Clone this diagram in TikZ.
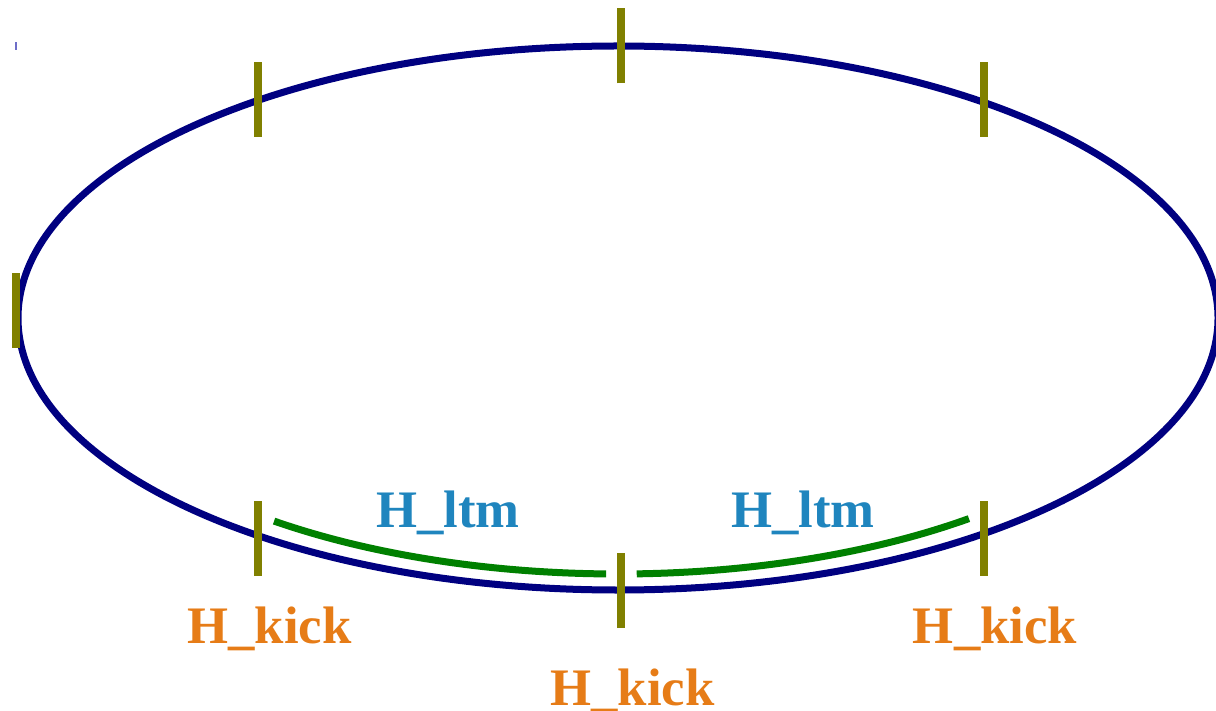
\documentclass[tikz,border=0pt]{standalone}
\usepackage{fontspec}
\setmainfont{Liberation Serif}
\definecolor{ringcolor}{RGB}{0,0,128}
\definecolor{markcolor}{RGB}{128,128,0}
\definecolor{ltmcolor}{RGB}{31,133,190}
\definecolor{kickcolor}{RGB}{230,124,23}
\definecolor{drift}{RGB}{0,128,0}
\definecolor{tinymark}{RGB}{110,110,200}
\tikzset{
    ring/.style={draw=ringcolor, line width=0.07cm},
    driftarc/.style={draw=drift, line width=0.07cm},
    hlabel/.style={anchor=base, inner sep=0pt,
        font=\fontsize{15}{18}\selectfont\bfseries},
}
\newcommand{\marker}[2]{%
    \draw[markcolor, line width=0.08cm] (#1,{#2-0.375}) -- (#1,{#2+0.375});}
\newcommand{\kicklabel}{H\_kick}
\newcommand{\ltmlabel}{H\_ltm}

\begin{document}
\begin{tikzpicture}
    \useasboundingbox (0,0) rectangle (12.16,7.10);
    \coordinate (ctr) at (6.18,3.92);
    % the ring
    \draw[ring] (ctr) ellipse [x radius=6.00, y radius=2.72];
    % long drift maps along the bottom
    \draw[driftarc] ([shift={(232.5:5.65 and 2.56)}]ctr)
        arc[start angle=232.5, end angle=268.8, x radius=5.65, y radius=2.56];
    \draw[driftarc] ([shift={(271.9:5.65 and 2.56)}]ctr)
        arc[start angle=271.9, end angle=308.4, x radius=5.65, y radius=2.56];
    % kick positions
    \marker{6.21}{6.64}
    \marker{2.58}{6.105}
    \marker{9.84}{6.105}
    \marker{0.165}{3.995}
    \marker{2.58}{1.72}
    \marker{9.84}{1.72}
    \marker{6.21}{1.195}
    \draw[tinymark, line width=0.02cm] (0.16,6.60) -- (0.16,6.68);
    % labels
    \node[hlabel, text=ltmcolor] (ltmleft) at (4.48,1.83) {\ltmlabel};
    \node[hlabel, text=ltmcolor] (ltmright) at (8.03,1.83) {\ltmlabel};
    \node[hlabel, text=kickcolor] (kickleft) at (2.695,0.67) {\kicklabel};
    \node[hlabel, text=kickcolor] (kickright) at (9.95,0.67) {\kicklabel};
    \node[hlabel, text=kickcolor] (kickmid) at (6.325,0.05) {\kicklabel};
\end{tikzpicture}
\end{document}
